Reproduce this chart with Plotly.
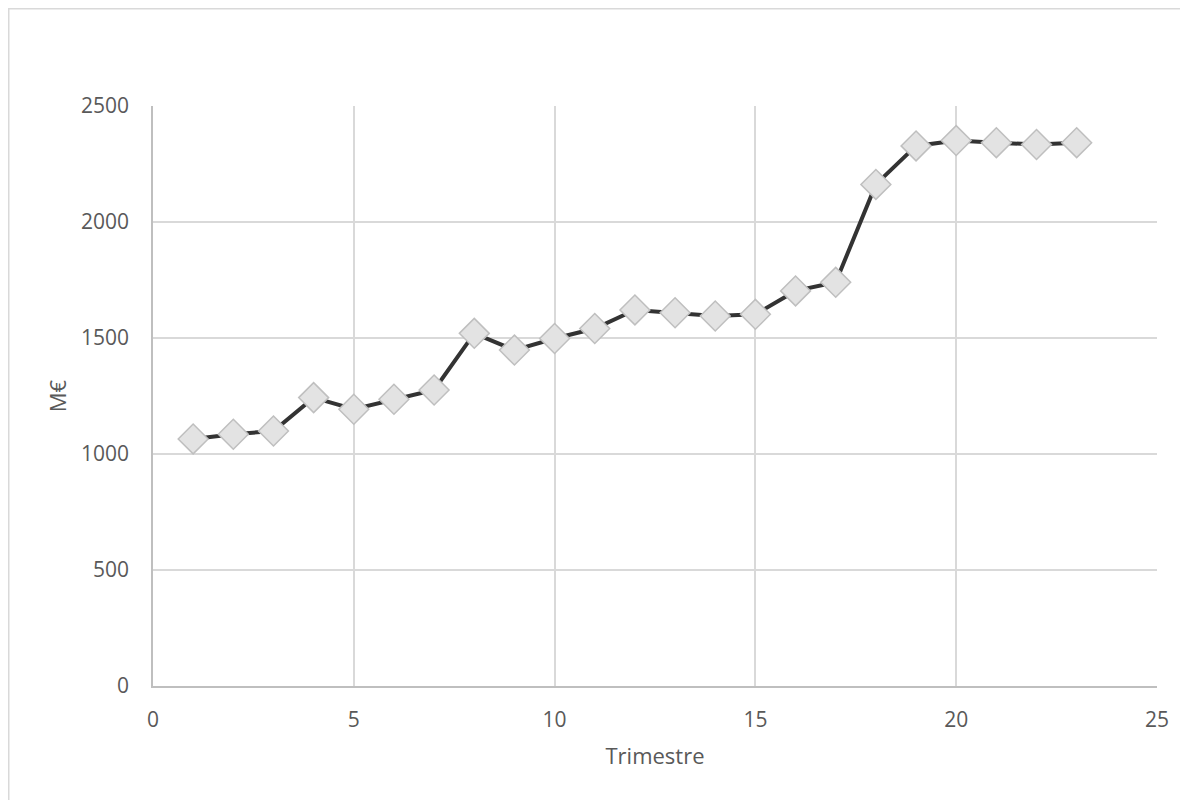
import plotly.graph_objects as go

trimestre = list(range(1, 24))
valeurs = [1065, 1085, 1099, 1243, 1193, 1236, 1276, 1520, 1448, 1498, 1541, 1621,
           1609, 1595, 1602, 1703, 1740, 2162, 2328, 2351, 2342, 2334, 2342]
x_ticks = [0, 5, 10, 15, 20, 25]
y_ticks = [0, 500, 1000, 1500, 2000, 2500]

W, H = 1188, 800
L, T = 145, 98
pw, ph = 1004, 580
R, B = W - L - pw, H - T - ph

fig = go.Figure()
fig.add_trace(go.Scatter(
    x=trimestre, y=valeurs, mode="lines+markers",
    line=dict(color="#333333", width=4),
    marker=dict(symbol="diamond", size=23, color="#e3e3e3",
                line=dict(color="#bfbfbf", width=1.5)),
    showlegend=False,
))

font = dict(family="Open Sans", size=21, color="#595959")
tfont = dict(family="Open Sans", size=22, color="#595959")
fig.update_layout(
    width=W, height=H,
    margin=dict(l=L, r=R, t=T, b=B),
    paper_bgcolor="white", plot_bgcolor="white",
    font=font,
    xaxis=dict(range=[0, 25], tickvals=x_ticks, showgrid=True, gridcolor="#d9d9d9",
               gridwidth=1.5, showline=True, linecolor="#bfbfbf", linewidth=1.5,
               zeroline=False, ticks="outside", ticklen=14, tickcolor="rgba(0,0,0,0)",
               tickfont=font, title=dict(text="Trimestre", font=tfont, standoff=17)),
    yaxis=dict(range=[0, 2500], tickvals=y_ticks, showgrid=True, gridcolor="#d9d9d9",
               gridwidth=1.5, showline=True, linecolor="#bfbfbf", linewidth=1.5,
               zeroline=False, ticks="outside", ticklen=18, tickcolor="rgba(0,0,0,0)",
               tickfont=font, title=dict(text="M€", font=tfont, standoff=8)),
    shapes=[dict(type="rect", xref="paper", yref="paper",
                 x0=(0.75 - L) / pw, x1=(W - 0.75 - L) / pw,
                 y0=-(B - 0.75) / ph, y1=(T + ph - 0.75) / ph,
                 line=dict(color="#d9d9d9", width=1.5), fillcolor="rgba(0,0,0,0)",
                 layer="below")],
)

fig.write_html("out.html")
